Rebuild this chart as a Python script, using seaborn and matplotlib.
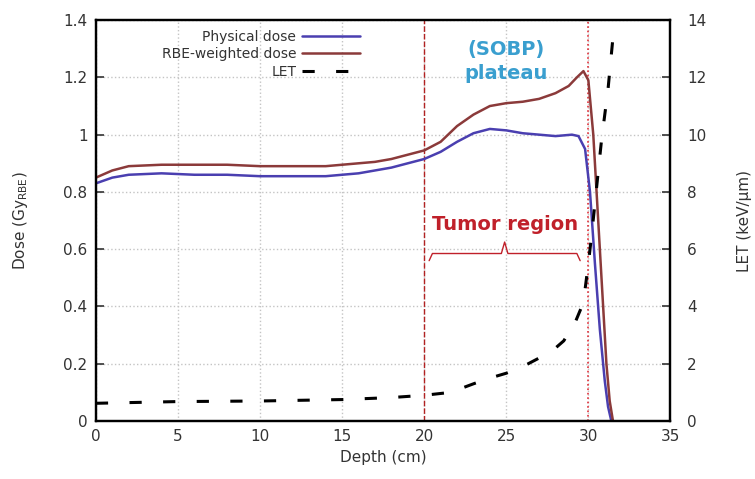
import numpy as np
import pandas as pd
import matplotlib.pyplot as plt
import seaborn as sns

# Depth-dose curves
depth_phys = [0, 1, 2, 4, 6, 8, 10, 12, 14, 16, 17, 18, 19, 20, 21, 22, 23, 24, 25, 26, 27, 28, 29, 29.4,
              29.8, 30.1, 30.4, 30.7, 31.0, 31.2, 31.4]
phys_dose = [0.83, 0.85, 0.86, 0.865, 0.86, 0.86, 0.855, 0.855, 0.855, 0.865, 0.875, 0.885, 0.9, 0.915, 0.94,
             0.975, 1.005, 1.02, 1.015, 1.005, 1.0, 0.995, 1.0, 0.995,
             0.95, 0.8, 0.55, 0.32, 0.14, 0.05, 0.0]

depth_rbe = [0, 1, 2, 4, 6, 8, 10, 12, 14, 16, 17, 18, 19, 20, 21, 22, 23, 24, 25, 26, 27, 28, 28.8, 29.3,
             29.7, 30.0, 30.3, 30.6, 30.9, 31.1, 31.3, 31.5]
rbe_dose = [0.85, 0.875, 0.89, 0.895, 0.895, 0.895, 0.89, 0.89, 0.89, 0.9, 0.905, 0.915, 0.93, 0.945, 0.975,
            1.03, 1.07, 1.1, 1.11, 1.115, 1.125, 1.145, 1.17, 1.2,
            1.222, 1.19, 1.0, 0.7, 0.4, 0.2, 0.07, 0.0]

depth_let = [0, 5, 10, 15, 18, 20, 21.6, 23, 24, 25, 26, 27, 28, 28.5, 29.2, 29.6, 29.8, 30.0,
             30.2, 30.4, 30.6, 30.8, 31.0, 31.2, 31.35, 31.5]
let_vals = [0.62, 0.68, 0.7, 0.75, 0.82, 0.9, 1.0, 1.3, 1.5, 1.67, 1.9, 2.2, 2.55, 2.8, 3.45, 4.0, 4.6, 5.5,
            6.5, 7.6, 8.7, 9.8, 10.7, 11.6, 12.5, 13.4]

df_phys = pd.DataFrame({'depth': depth_phys, 'dose': phys_dose})
df_rbe = pd.DataFrame({'depth': depth_rbe, 'dose': rbe_dose})
df_let = pd.DataFrame({'depth': depth_let, 'let': let_vals})

sns.set_theme(style='white')
plt.rcParams['font.family'] = ['DejaVu Sans']

fig, ax = plt.subplots(figsize=(7.55, 4.79), dpi=100)
fig.subplots_adjust(left=0.127, right=0.888, top=0.958, bottom=0.121)
ax2 = ax.twinx()

sns.lineplot(ax=ax, data=df_phys, x='depth', y='dose', color='#4a3fb0', linewidth=1.8,
             label='Physical dose', legend=False)
sns.lineplot(ax=ax, data=df_rbe, x='depth', y='dose', color='#8b3a3a', linewidth=1.8,
             label='RBE-weighted dose', legend=False)
sns.lineplot(ax=ax2, data=df_let, x='depth', y='let', color='black', linewidth=2.2,
             label='LET', legend=False)
ax2.lines[0].set_dashes((4, 7))

# Tumor region boundaries
ax.axvline(20, color='#b22222', linestyle=(0, (4, 1.5)), linewidth=1.0, zorder=1)
ax.axvline(30, color='#e0303a', linestyle=':', linewidth=1.2, zorder=1)

ax.set_xlim(0, 35)
ax.set_ylim(0, 1.4)
ax2.set_ylim(0, 14)
ax.set_xticks(range(0, 36, 5))
ax.set_yticks(np.arange(0, 1.41, 0.2))
ax.set_yticklabels(['0', '0.2', '0.4', '0.6', '0.8', '1', '1.2', '1.4'])
ax2.set_yticks(range(0, 15, 2))

ax.grid(True, color='#c4c4c4', linestyle=':', linewidth=1.0)
ax.tick_params(direction='in', length=6, width=1.2, labelsize=11, colors='#333333', pad=6)
ax2.tick_params(direction='in', length=6, width=1.2, labelsize=11, colors='#333333', pad=12)
for a in (ax, ax2):
    for s in a.spines.values():
        s.set_color('black')
        s.set_linewidth(1.6)

ax.set_xlabel('Depth (cm)', fontsize=11, color='#333333')
ax.set_ylabel('Dose (Gy$_{\\mathrm{RBE}}$)', fontsize=11, color='#333333', labelpad=24)
ax2.set_ylabel('LET (keV/\u03bcm)', fontsize=11, color='#333333', labelpad=22)

# Annotations
ax.text(25.0, 1.255, '(SOBP)\nplateau', color='#3a9fcf', fontsize=14, fontweight='bold',
        ha='center', va='center', linespacing=1.35)
ax.text(24.9, 0.685, 'Tumor region', color='#c0202a', fontsize=14, fontweight='bold',
        ha='center', va='center')
bx = [20.3, 20.5, 24.7, 24.9, 25.1, 29.3, 29.5]
by = [0.56, 0.585, 0.585, 0.625, 0.585, 0.585, 0.56]
ax.plot(bx, by, color='#c0202a', linewidth=1.0)

handles = ax.lines[:2] + ax2.lines[:1]
leg = ax.legend(handles, ['Physical dose', 'RBE-weighted dose', 'LET'], loc='upper left',
                bbox_to_anchor=(0.105, 0.99), frameon=False, markerfirst=False, fontsize=10,
                handlelength=4.2, handletextpad=0.4, labelspacing=0.25, borderaxespad=0)
for t in leg.get_texts():
    t.set_ha('right')
    t.set_color('#333333')
leg._legend_box.align = 'right'

fig.savefig('out.png', dpi=100)
